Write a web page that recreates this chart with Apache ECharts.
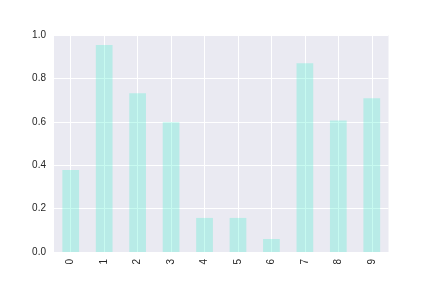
<!DOCTYPE html>
<html><head><meta charset="utf-8">
<script src="https://cdn.jsdelivr.net/npm/echarts@6/dist/echarts.min.js"></script>
<style>html,body{margin:0;padding:0;background:#fff}#c{width:432px;height:288px}</style>
</head><body><div id="c"></div>
<script>
var categories = ['0','1','2','3','4','5','6','7','8','9'];
var values = [0.378, 0.954, 0.732, 0.598, 0.157, 0.157, 0.060, 0.870, 0.606, 0.709];
var yTicks = [0.0, 0.2, 0.4, 0.6, 0.8, 1.0];

var L = 54, R = 43.5, T = 35, B = 36;
var half = (432 - L - R) / categories.length / 2;
var font = 'Liberation Sans, Arial, sans-serif';

var chart = echarts.init(document.getElementById('c'), null, {renderer:'canvas'});
chart.setOption({
  animation: false,
  backgroundColor: '#ffffff',
  grid: [
    {left: L, right: R, top: T, bottom: B, show: true, backgroundColor: '#EAEAF2', borderWidth: 0},
    {left: L + half, right: R + half, top: T, bottom: B, show: false}
  ],
  xAxis: [{
    type: 'category', data: categories, gridIndex: 0,
    axisLine: {show: false}, axisTick: {show: false},
    axisLabel: {rotate: 90, fontSize: 10, color: '#262626', fontFamily: font, margin: 7},
    splitLine: {show: false}
  }, {
    type: 'value', gridIndex: 1, min: 0, max: categories.length - 1, interval: 1,
    axisLine: {show: false}, axisTick: {show: false}, axisLabel: {show: false},
    splitLine: {show: true, lineStyle: {color: '#ffffff', width: 1}}
  }],
  yAxis: [{
    type: 'value', gridIndex: 0, min: 0, max: 1, interval: 0.2,
    axisLine: {show: false}, axisTick: {show: false},
    axisLabel: {fontSize: 10, color: '#262626', fontFamily: font, margin: 8,
      formatter: function(v){ return v.toFixed(1); }},
    splitLine: {show: true, lineStyle: {color: '#ffffff', width: 1}}
  }, {
    type: 'value', gridIndex: 1, min: 0, max: 1, show: false,
    splitLine: {show: false}
  }],
  series: [{
    type: 'bar', data: values, barWidth: '50%', xAxisIndex: 0, yAxisIndex: 0,
    itemStyle: {color: 'rgba(70,238,204,0.3)'}
  }]
});
</script></body></html>
